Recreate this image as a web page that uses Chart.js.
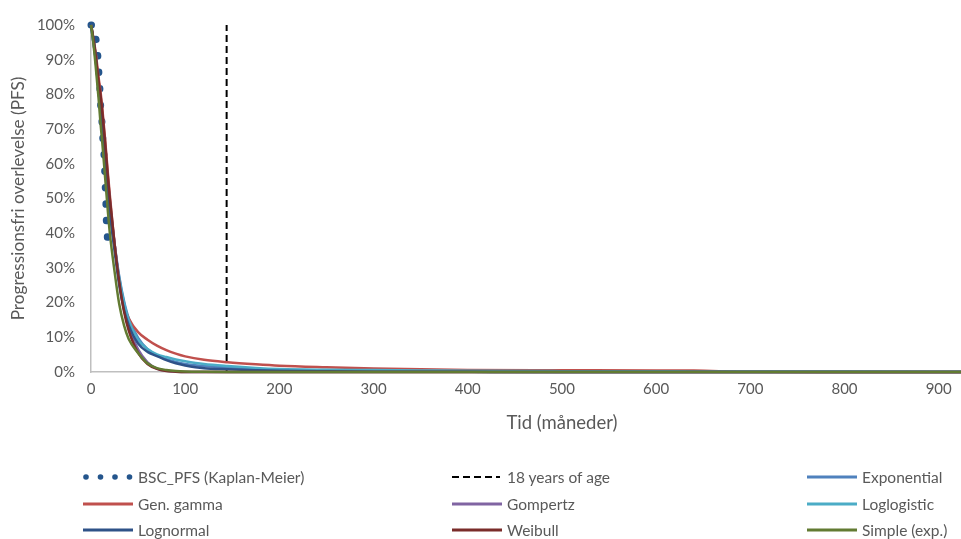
<!DOCTYPE html>
<html lang="no">
<head>
<meta charset="UTF-8">
<script src="https://cdn.jsdelivr.net/npm/chart.js@4.4.0/dist/chart.umd.min.js"></script>
<title>PFS</title>
<style>
  body { margin: 0; background: #fff; overflow: hidden; width: 961px; height: 539px; position: relative; }
  #wrap { position: absolute; left: 0; top: 0; width: 1060px; height: 450px; }
  #legend { position: absolute; left: 0; top: 0; width: 961px; height: 539px; pointer-events: none; }
  .item { position: absolute; display: flex; align-items: center; height: 18px; font: 15.5px Lato, sans-serif; color: #595959; white-space: nowrap; }
  .item svg { margin-right: 5px; }
</style>
</head>
<body>
<div id="wrap"><canvas id="myChart"></canvas></div>
<div id="legend"></div>
<script>
// tid i måneder
var months = [0, 2, 5, 8, 10, 12, 15, 18, 20, 25, 30, 35, 40, 50, 60, 70, 80, 90, 100, 120, 145, 175, 200, 250, 300, 350, 400, 500, 600, 640, 700, 800, 1000];

var exponential = [100, 96, 90, 81, 76, 71, 62, 53, 48, 37, 27.5, 20.5, 15.5, 9.8, 6.6, 4.8, 3.7, 2.9, 2.3, 1.7, 1.3, 0.8, 0.55, 0.3, 0.15, 0.1, 0.05, 0, 0, 0, 0, 0, 0];
var genGamma    = [100, 97, 92, 85, 81, 76, 67, 57, 51, 37, 26, 19, 15.5, 11.5, 9.3, 7.6, 6.3, 5.3, 4.5, 3.5, 2.8, 2.2, 1.8, 1.35, 1.0, 0.8, 0.6, 0.5, 0.45, 0.4, 0.05, 0, 0];
var gompertz    = [100, 96, 90, 82, 78, 73, 64, 55, 49, 37, 26.5, 18.5, 13, 6.5, 2.8, 1.0, 0.35, 0.1, 0, 0, 0, 0, 0, 0, 0, 0, 0, 0, 0, 0, 0, 0, 0];
var loglogistic = [100, 96, 90, 81, 76, 70, 61, 52, 47, 36, 27, 20, 15, 9.3, 6.6, 5.1, 4.3, 3.6, 3.1, 2.3, 1.7, 1.15, 0.85, 0.65, 0.55, 0.45, 0.35, 0.25, 0.2, 0.18, 0.15, 0.12, 0.1];
var lognormal   = [100, 97, 91, 82, 77, 71, 61, 52, 46, 35, 25, 18, 13.5, 8.2, 5.8, 4.6, 3.4, 2.5, 1.9, 1.1, 0.8, 0.5, 0.35, 0.2, 0.1, 0.08, 0.05, 0, 0, 0, 0, 0, 0];
var weibull     = [100, 97, 91, 84, 80, 75, 66, 56, 50, 37, 26, 17.5, 12, 5.5, 2.3, 0.9, 0.3, 0.1, 0, 0, 0, 0, 0, 0, 0, 0, 0, 0, 0, 0, 0, 0, 0];
var simpleExp   = [100, 96, 88, 79, 72, 66, 56, 46, 40, 29, 19.5, 13.5, 9.5, 5.5, 2.5, 1.1, 0.6, 0.3, 0.15, 0.05, 0, 0, 0, 0, 0, 0, 0, 0, 0, 0, 0, 0, 0];

// Kaplan-Meier
var kmMonths = [0, 2.1, 5.6, 7.4, 8.4, 9.5, 10.2, 11.6, 12.5, 13.7, 14.5, 15.1, 15.8, 16.2, 17, 17.4];
var kmPfs    = [100, 100, 95.5, 90.7, 86.1, 81.3, 76.9, 72.2, 67.4, 62.9, 58.1, 53.4, 48.6, 43.9, 40.5, 38.5];

var ageMonths = [144, 144];
var ageLine   = [0, 100];

var xTicks = [0, 100, 200, 300, 400, 500, 600, 700, 800, 900, 1000];
var yTicks = [0, 10, 20, 30, 40, 50, 60, 70, 80, 90, 100];

function pts(xs, ys) {
    return xs.map(function (x, i) { return { x: x, y: ys[i] }; });
}

var series = [
    { label: 'BSC_PFS (Kaplan-Meier)', data: pts(kmMonths, kmPfs), color: '#24558C', kind: 'dots' },
    { label: '18 years of age', data: pts(ageMonths, ageLine), color: '#000000', kind: 'dash' },
    { label: 'Exponential', data: pts(months, exponential), color: '#4F81BD' },
    { label: 'Gen. gamma', data: pts(months, genGamma), color: '#C0504D' },
    { label: 'Gompertz', data: pts(months, gompertz), color: '#8064A2' },
    { label: 'Loglogistic', data: pts(months, loglogistic), color: '#4BACC6' },
    { label: 'Lognormal', data: pts(months, lognormal), color: '#2E5288' },
    { label: 'Weibull', data: pts(months, weibull), color: '#7A2C2A' },
    { label: 'Simple (exp.)', data: pts(months, simpleExp), color: '#627B32' }
];

var datasets = series.map(function (s, i) {
    var ds = {
        label: s.label,
        data: s.data,
        borderColor: s.color,
        backgroundColor: s.color,
        borderWidth: 2.5,
        pointRadius: 0,
        fill: false,
        cubicInterpolationMode: 'monotone',
        clip: false,
        order: series.length - 1 - i
    };
    if (s.kind === 'dots') {
        ds.borderWidth = 7;
        ds.borderDash = [0.5, 16];
        ds.borderCapStyle = 'round';
        ds.cubicInterpolationMode = 'default';
        ds.tension = 0;
    }
    if (s.kind === 'dash') {
        ds.borderWidth = 2;
        ds.borderDash = [7, 4];
        ds.cubicInterpolationMode = 'default';
        ds.tension = 0;
    }
    return ds;
});

var tickFont = { family: 'Lato, sans-serif', size: 15 };
var ctx = document.getElementById('myChart').getContext('2d');
var myChart = new Chart(ctx, {
    type: 'line',
    data: { datasets: datasets },
    options: {
        responsive: true,
        maintainAspectRatio: false,
        animation: false,
        layout: { padding: { left: 0, top: 19, right: 22, bottom: 0 } },
        plugins: { legend: { display: false }, tooltip: { enabled: false } },
        scales: {
            x: {
                type: 'linear',
                min: 0,
                max: 1000,
                afterBuildTicks: function (s) { s.ticks = xTicks.map(function (v) { return { value: v }; }); },
                afterFit: function (s) { s.height = 78; },
                grid: { display: false, drawTicks: false },
                border: { display: true, color: '#BFBFBF', width: 1.5 },
                ticks: { color: '#595959', font: tickFont, padding: 8, maxRotation: 0 },
                title: { display: true, text: 'Tid (måneder)', color: '#595959', font: { family: 'Lato, sans-serif', size: 18.5 }, padding: { top: 0, bottom: 16 } }
            },
            y: {
                min: 0,
                max: 100,
                afterBuildTicks: function (s) { s.ticks = yTicks.map(function (v) { return { value: v }; }); },
                afterFit: function (s) { s.width = 91; },
                grid: { display: false, drawTicks: false },
                border: { display: true, color: '#BFBFBF', width: 1.5 },
                ticks: { color: '#595959', font: tickFont, padding: 16, callback: function (v) { return v + '%'; } },
                title: { display: true, text: 'Progressionsfri overlevelse (PFS)', color: '#595959', font: { family: 'Lato, sans-serif', size: 17.2 }, padding: { top: 8, bottom: 0 } }
            }
        }
    }
});

// legend in three columns, like the original
var legendCols = [83, 452, 807];
var legendRows = [477, 504, 530];
var legend = document.getElementById('legend');
series.forEach(function (s, i) {
    var el = document.createElement('div');
    el.className = 'item';
    el.style.left = legendCols[i % 3] + 'px';
    el.style.top = (legendRows[Math.floor(i / 3)] - 9) + 'px';
    var svg;
    if (s.kind === 'dots') {
        svg = '<svg width="50" height="8">' + [3, 17.5, 32, 46.5].map(function (cx) {
            return '<circle cx="' + cx + '" cy="4" r="2.8" fill="' + s.color + '"/>';
        }).join('') + '</svg>';
    } else if (s.kind === 'dash') {
        svg = '<svg width="50" height="8"><line x1="0" y1="4" x2="48" y2="4" stroke="#000" stroke-width="2" stroke-dasharray="7 4"/></svg>';
    } else {
        svg = '<svg width="50" height="8"><line x1="0" y1="4" x2="50" y2="4" stroke="' + s.color + '" stroke-width="3"/></svg>';
    }
    el.innerHTML = svg + '<span>' + s.label + '</span>';
    legend.appendChild(el);
});
</script>
</body>
</html>
